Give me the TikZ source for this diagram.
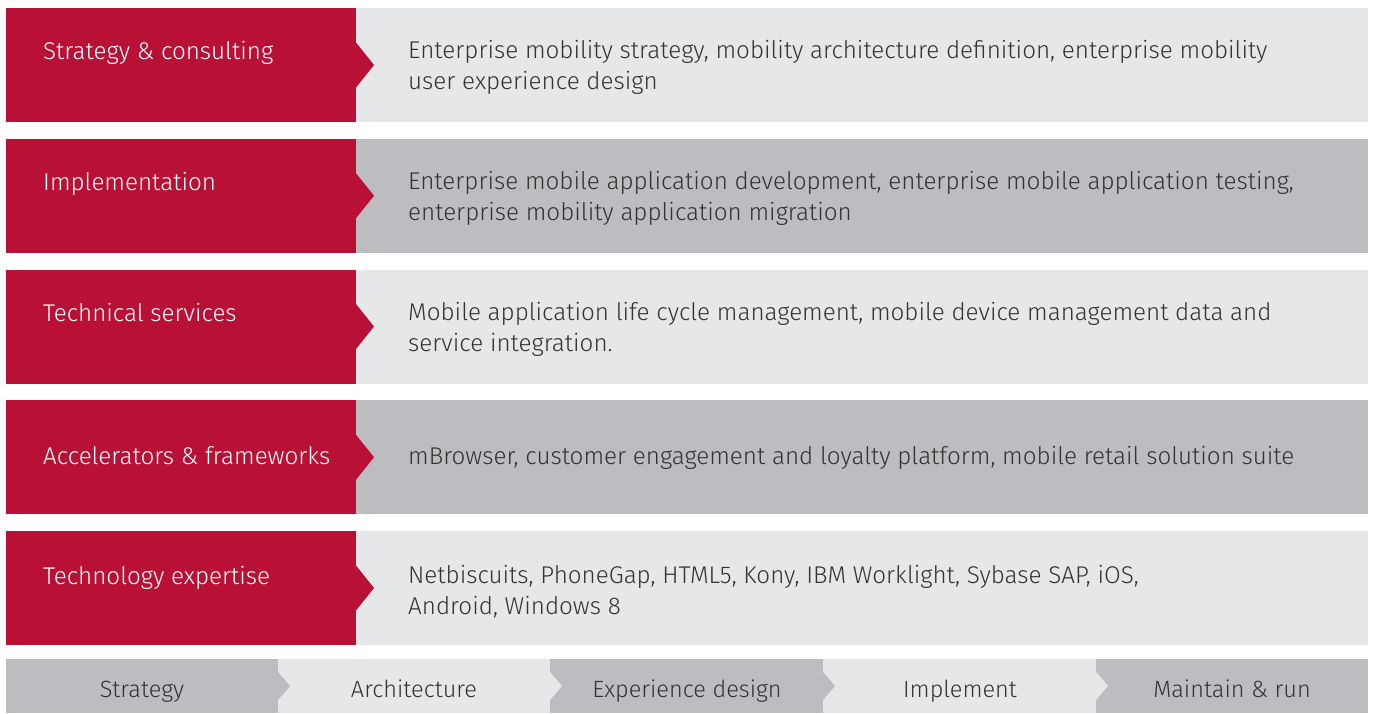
\documentclass[tikz,border=0pt]{standalone}
\usepackage{fontspec}
\setmainfont{Fira Sans Light}
\definecolor{capred}{HTML}{B91035}
\definecolor{lightrow}{HTML}{E6E7E9}
\definecolor{darkrow}{HTML}{BCBDC0}
\definecolor{bodytext}{HTML}{333333}
\tikzset{
  lefttext/.style={anchor=base west,text=white,font=\fontsize{24.2}{28}\selectfont,inner sep=0pt},
  righttext/.style={anchor=base west,text=bodytext,font=\fontsize{24.2}{31.5}\selectfont,align=left,inner sep=0pt},
  steptext/.style={anchor=base,text=bodytext,font=\fontsize{23.5}{28}\selectfont,inner sep=0pt}
}
\begin{document}
\begin{tikzpicture}[x=1pt,y=-1pt]
\useasboundingbox (0,0) rectangle (1376,713);
\fill[white] (0,0) rectangle (1376,713);

% rows
\foreach \i/\col in {0/lightrow,1/darkrow,2/lightrow,3/darkrow,4/lightrow}{
  \pgfmathsetmacro{\rowtop}{8+130.75*\i}
  \fill[color=\col] (356,\rowtop) rectangle (1368,\rowtop+114);
  \fill[color=capred] (6,\rowtop) rectangle (356,\rowtop+114);
  \fill[color=capred] (356,\rowtop+34.5) -- (374,\rowtop+57) -- (356,\rowtop+79.5) -- cycle;
}

\node[lefttext] (consulting) at (43,59) {Strategy \& consulting};
\node[lefttext] (implementation) at (43,190) {Implementation};
\node[lefttext] (technical) at (43,321) {Technical services};
\node[lefttext] (accelerators) at (43,464) {Accelerators \& frameworks};
\node[lefttext] (expertise) at (43,584) {Technology expertise};

% descriptions (base = last line)
\node[righttext] (consultingtext) at (408,89.5) {Enterprise mobility strategy, mobility architecture definition, enterprise mobility\\user experience design};
\node[righttext] (implementationtext) at (408,220.5) {Enterprise mobile application development, enterprise mobile application testing,\\enterprise mobility application migration};
\node[righttext] (technicaltext) at (408,351.5) {Mobile application life cycle management, mobile device management data and\\service integration.};
\node[righttext] (acceleratorstext) at (408,464) {mBrowser, customer engagement and loyalty platform, mobile retail solution suite};
\node[righttext] (expertisetext) at (408,614.5) {Netbiscuits, PhoneGap, HTML5, Kony, IBM Worklight, Sybase SAP, iOS,\\Android, Windows 8};

% phases
\foreach \x/\w/\col in {6/272/darkrow,278/272/lightrow,550/273/darkrow,823/273/lightrow,1096/272/darkrow}
  \fill[color=\col] (\x,659) rectangle (\x+\w,713);
\foreach \b/\col in {278/darkrow,550/lightrow,823/darkrow,1096/lightrow}
  \fill[color=\col] (\b,672) -- (\b+12,686) -- (\b,700) -- cycle;

\node[steptext] (strategy) at (142,697) {Strategy};
\node[steptext] (architecture) at (414,697) {Architecture};
\node[steptext] (experience) at (687,697) {Experience design};
\node[steptext] (implement) at (960,697) {Implement};
\node[steptext] (maintain) at (1232,697) {Maintain \& run};
\end{tikzpicture}
\end{document}
